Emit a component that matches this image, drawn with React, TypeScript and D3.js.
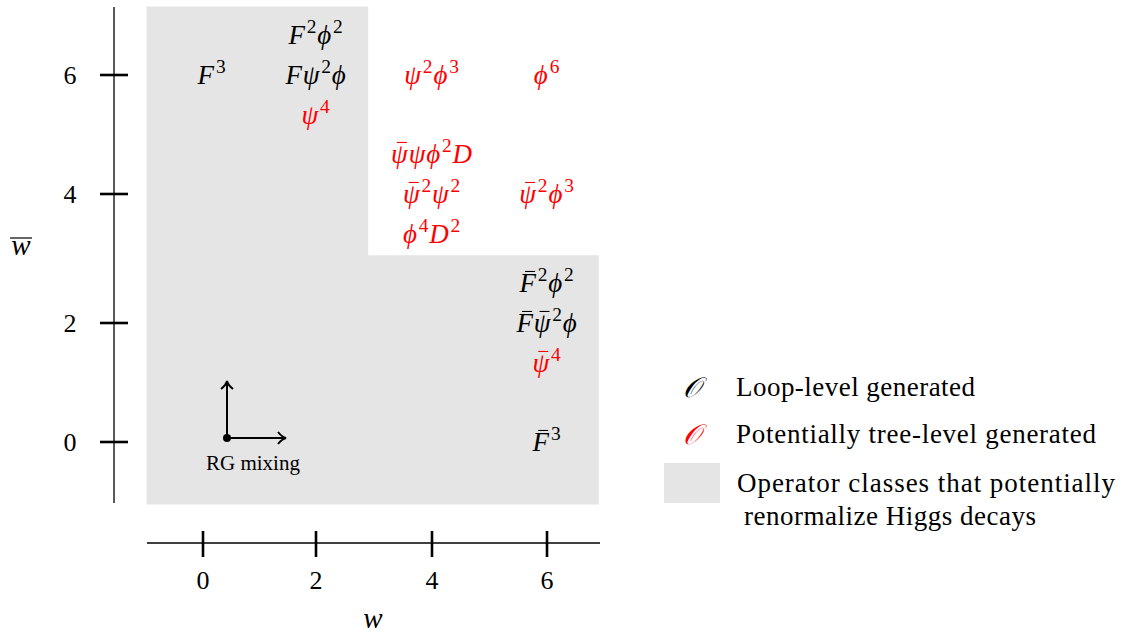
import React, { useLayoutEffect, useRef, useState } from "react";
import * as d3 from "d3";

// operator classes, grouped by (w, wbar) cell. "~" marks a bar over the next letter
const cellW = [0, 2, 4, 6, 4, 6, 6, 6];
const cellWbar = [6, 6, 6, 6, 4, 4, 2, 0];
const cellOps = [
  ["F^3"],
  ["F^2ϕ^2", "Fψ^2ϕ", "ψ^4"],
  ["ψ^2ϕ^3"],
  ["ϕ^6"],
  ["~ψψϕ^2D", "~ψ^2ψ^2", "ϕ^4D^2"],
  ["~ψ^2ϕ^3"],
  ["~F^2ϕ^2", "~F~ψ^2ϕ", "~ψ^4"],
  ["~F^3"],
];
// true = potentially tree-level generated (red)
const cellTree = [
  [false],
  [false, false, true],
  [true],
  [true],
  [true, true, true],
  [true],
  [false, false, true],
  [false],
];

const tickValues = [0, 2, 4, 6];
// shaded region corners (w, wbar): everything except the upper-right block
const shadeW = [-1, 6.9, 6.9, 2.9, 2.9, -1];
const shadeWbar = [-1.05, -1.05, 3.05, 3.05, 7.15, 7.15];

const legendLabels = ["Loop-level generated", "Potentially tree-level generated"];

const MATH_FONT = "'Liberation Serif', serif";
const GREY = "#e5e5e5";
const RED = "#ff0000";

type Part = { t: string; sup: boolean; bar: boolean };

function parse(s: string): Part[] {
  const parts: Part[] = [];
  let i = 0;
  let bar = false;
  while (i < s.length) {
    const c = s[i];
    if (c === "~") { bar = true; i++; continue; }
    if (c === "^") { parts.push({ t: s[i + 1], sup: true, bar: false }); i += 2; continue; }
    parts.push({ t: c, sup: false, bar });
    bar = false;
    i++;
  }
  return parts;
}

function MathLabel({ s, x, y, fill, size }: { s: string; x: number; y: number; fill: string; size: number }) {
  const ref = useRef<SVGTextElement>(null);
  const [bars, setBars] = useState<{ x1: number; x2: number; y: number }[]>([]);
  const parts = parse(s);

  useLayoutEffect(() => {
    const el = ref.current;
    if (!el) return;
    const out: { x1: number; x2: number; y: number }[] = [];
    let idx = 0;
    parts.forEach((p) => {
      if (p.bar) {
        const r = el.getExtentOfChar(idx);
        const cx = r.x + r.width / 2 + 2;
        out.push({ x1: cx - 5, x2: cx + 5, y: y - size * 0.76 });
      }
      idx += p.t.length;
    });
    setBars(out);
  }, [s, x, y]);

  const rise = size * 0.4;
  let up = false;
  return (
    <g>
      <text ref={ref} x={x} y={y} fill={fill} fontFamily={MATH_FONT} fontSize={size} textAnchor="middle" letterSpacing={0.8}>
        {parts.map((p, k) => {
          let dy = 0;
          if (p.sup && !up) { dy = -rise; up = true; }
          else if (!p.sup && up) { dy = rise; up = false; }
          return (
            <tspan
              key={k}
              dy={dy}
              fontStyle={p.sup ? "normal" : "italic"}
              fontSize={p.sup ? size * 0.72 : size}
              dx={p.sup ? 1 : 0}
            >
              {p.t}
            </tspan>
          );
        })}
      </text>
      {bars.map((b, k) => (
        <line key={k} x1={b.x1} x2={b.x2} y1={b.y} y2={b.y} stroke={fill} strokeWidth={1.1} />
      ))}
    </g>
  );
}

export default function App() {
  const width = 1123;
  const height = 634;

  const x = d3.scaleLinear().domain([0, 2, 4, 6]).range([203, 316, 432, 547]);
  const y = d3.scaleLinear().domain([0, 2, 4, 6]).range([442, 323, 194, 75]);

  const shadeLine = d3.line<number>()
    .x((d, i) => x(shadeW[i]))
    .y((d, i) => y(shadeWbar[i]));
  const shadePath = shadeLine(shadeW) + "Z";

  const yAxisX = 114;
  const xAxisY = 543;
  const mathSize = 27;
  const lineGap = 40;

  const rgX = 227;
  const rgY = 438;

  return (
    <svg width={width} height={height} style={{ position: "absolute", left: 0, top: 0, background: "#fff" }}>
      <path d={shadePath} fill={GREY} />

      {/* y axis */}
      <line x1={yAxisX} x2={yAxisX} y1={7} y2={503} stroke="#000" strokeWidth={1.3} />
      {tickValues.map((v) => (
        <g key={"yt" + v}>
          <line x1={yAxisX - 14} x2={yAxisX + 14} y1={y(v)} y2={y(v)} stroke="#000" strokeWidth={2.6} />
          <text x={70} y={y(v) + 9} textAnchor="middle" fontFamily={MATH_FONT} fontSize={26}>{v}</text>
        </g>
      ))}
      <text x={21} y={255} textAnchor="middle" fontFamily={MATH_FONT} fontSize={29} fontStyle="italic">w</text>
      <line x1={10} x2={32} y1={238} y2={238} stroke="#000" strokeWidth={1.2} />

      {/* x axis */}
      <line x1={147} x2={600} y1={xAxisY} y2={xAxisY} stroke="#000" strokeWidth={1.3} />
      {tickValues.map((v) => (
        <g key={"xt" + v}>
          <line x1={x(v)} x2={x(v)} y1={xAxisY - 12} y2={xAxisY + 14} stroke="#000" strokeWidth={2.6} />
          <text x={x(v)} y={589} textAnchor="middle" fontFamily={MATH_FONT} fontSize={26}>{v}</text>
        </g>
      ))}
      <text x={373} y={628} textAnchor="middle" fontFamily={MATH_FONT} fontSize={29} fontStyle="italic">w</text>

      {/* operator labels */}
      {cellOps.map((ops, c) =>
        ops.map((op, k) => (
          <MathLabel
            key={c + "-" + k}
            s={op}
            x={x(cellW[c]) + (cellW[c] === 0 ? 9 : 0)}
            y={y(cellWbar[c]) + (k - (ops.length - 1) / 2) * lineGap + 9}
            fill={cellTree[c][k] ? RED : "#000"}
            size={mathSize}
          />
        ))
      )}

      {/* RG mixing arrows */}
      <g stroke="#000" strokeWidth={2} fill="none">
        <line x1={rgX} y1={rgY} x2={rgX} y2={382} />
        <path d={`M${rgX - 6},${389} Q${rgX - 1},${385} ${rgX},${381} Q${rgX + 1},${385} ${rgX + 6},${389}`} />
        <line x1={rgX} y1={rgY} x2={285} y2={rgY} />
        <path d={`M${278},${rgY - 6} Q${282},${rgY - 1} ${286},${rgY} Q${282},${rgY + 1} ${278},${rgY + 6}`} />
      </g>
      <circle cx={rgX} cy={rgY} r={4} fill="#000" />
      <text x={253} y={470} textAnchor="middle" fontFamily={MATH_FONT} fontSize={21}>RG mixing</text>

      {/* legend */}
      {legendLabels.map((l, i) => (
        <g key={l}>
          <text x={692} y={397 + i * 47} textAnchor="middle" fontFamily={MATH_FONT} fontSize={28} fontStyle="italic" fill={i === 0 ? "#000" : RED}>𝒪</text>
          <text x={736} y={396 + i * 47} fontFamily={MATH_FONT} fontSize={27} textLength={i === 0 ? 239 : 360} lengthAdjust="spacing">{l}</text>
        </g>
      ))}
      <rect x={664} y={463} width={56} height={40} fill={GREY} />
      <text x={737} y={492} fontFamily={MATH_FONT} fontSize={27} textLength={378} lengthAdjust="spacing">Operator classes that potentially</text>
      <text x={744} y={525} fontFamily={MATH_FONT} fontSize={27} textLength={292} lengthAdjust="spacing">renormalize Higgs decays</text>
    </svg>
  );
}
